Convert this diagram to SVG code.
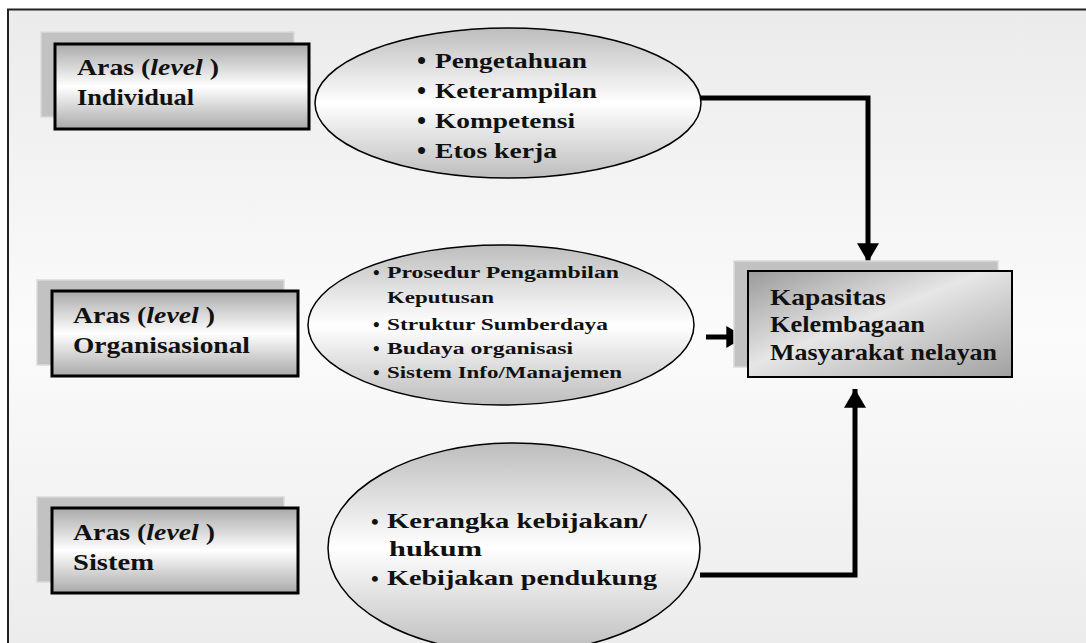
<svg xmlns="http://www.w3.org/2000/svg" width="1086" height="643" viewBox="0 0 1086 643">
<style>
text{font-family:'Liberation Serif','Times New Roman',serif;font-weight:700;fill:#111}
.it{font-style:italic}
.shadow{fill:#c2c2c2;stroke:#dadada;stroke-width:1.5}
.box{fill:url(#gBox);stroke:#000;stroke-width:3}
.rbox{fill:url(#gRBox);stroke:#000;stroke-width:2}
.ell{fill:url(#gEll);stroke:#000;stroke-width:1.5}
.conn{fill:none;stroke:#000;stroke-width:5}
</style>
<defs>
<linearGradient id="gBg" x1="0" y1="0" x2="0" y2="1">
<stop offset="0" stop-color="#ebebeb"/><stop offset="0.5" stop-color="#fbfbfb"/><stop offset="1" stop-color="#ebebeb"/>
</linearGradient>
<linearGradient id="gBox" x1="0" y1="0" x2="0" y2="1">
<stop offset="0" stop-color="#a9a9a9"/><stop offset="0.5" stop-color="#ffffff"/><stop offset="1" stop-color="#a9a9a9"/>
</linearGradient>
<linearGradient id="gRBox" x1="0" y1="0" x2="1" y2="1">
<stop offset="0" stop-color="#9a9a9a"/><stop offset="0.45" stop-color="#e6e6e6"/><stop offset="1" stop-color="#a0a0a0"/>
</linearGradient>
<linearGradient id="gEll" x1="0" y1="0" x2="0" y2="1">
<stop offset="0" stop-color="#bdbdbd"/><stop offset="0.5" stop-color="#ffffff"/><stop offset="1" stop-color="#bdbdbd"/>
</linearGradient>
<marker id="ah" markerUnits="userSpaceOnUse" markerWidth="22" markerHeight="22" viewBox="0 0 20 20" refX="17" refY="10" orient="auto">
<path d="M0,0 L17,10 L0,20 Z" fill="#000"/>
</marker>
</defs>

<rect x="8" y="9.5" width="1090" height="650" fill="url(#gBg)" stroke="#222" stroke-width="2"/>

<g id="connectors">
<path class="conn" d="M700,98 H868 V262" marker-end="url(#ah)"/>
<path class="conn" d="M706,337 H745" marker-end="url(#ah)"/>
<path class="conn" d="M700,575 H855 V389" marker-end="url(#ah)"/>
</g>

<g id="level-individual">
<rect class="shadow" x="41" y="32" width="253" height="85"/>
<rect class="box" x="55" y="44" width="254" height="85"/>
<text x="77" y="75" font-size="23" textLength="142" lengthAdjust="spacingAndGlyphs">Aras (<tspan class="it">level</tspan> )</text>
<text x="77" y="105" font-size="23" textLength="117" lengthAdjust="spacingAndGlyphs">Individual</text>
</g>

<g id="ellipse-individual">
<ellipse class="ell" cx="508" cy="103" rx="193" ry="75"/>
<text x="417" y="69" font-size="26">•</text>
<text x="435" y="68" font-size="20" textLength="152" lengthAdjust="spacingAndGlyphs">Pengetahuan</text>
<text x="417" y="99" font-size="26">•</text>
<text x="435" y="98" font-size="20" textLength="162" lengthAdjust="spacingAndGlyphs">Keterampilan</text>
<text x="417" y="129" font-size="26">•</text>
<text x="435" y="128" font-size="20" textLength="140" lengthAdjust="spacingAndGlyphs">Kompetensi</text>
<text x="417" y="159" font-size="26">•</text>
<text x="435" y="158" font-size="20" textLength="122" lengthAdjust="spacingAndGlyphs">Etos kerja</text>
</g>

<g id="level-organisasional">
<rect class="shadow" x="37" y="280" width="247" height="85"/>
<rect class="box" x="52" y="291" width="246" height="85"/>
<text x="73" y="323" font-size="23" textLength="142" lengthAdjust="spacingAndGlyphs">Aras (<tspan class="it">level</tspan> )</text>
<text x="73" y="353" font-size="23" textLength="177" lengthAdjust="spacingAndGlyphs">Organisasional</text>
</g>

<g id="ellipse-organisasional">
<ellipse class="ell" cx="501" cy="325" rx="193" ry="80"/>
<text x="373" y="279" font-size="19">•</text>
<text x="387" y="278" font-size="17" textLength="232" lengthAdjust="spacingAndGlyphs">Prosedur Pengambilan</text>
<text x="387" y="303" font-size="17" textLength="107" lengthAdjust="spacingAndGlyphs">Keputusan</text>
<text x="373" y="331" font-size="19">•</text>
<text x="387" y="330" font-size="17" textLength="221" lengthAdjust="spacingAndGlyphs">Struktur Sumberdaya</text>
<text x="373" y="355" font-size="19">•</text>
<text x="387" y="354" font-size="17" textLength="186" lengthAdjust="spacingAndGlyphs">Budaya organisasi</text>
<text x="373" y="379" font-size="19">•</text>
<text x="387" y="378" font-size="17" textLength="235" lengthAdjust="spacingAndGlyphs">Sistem Info/Manajemen</text>
</g>

<g id="level-sistem">
<rect class="shadow" x="37" y="497" width="247" height="85"/>
<rect class="box" x="52" y="508" width="246" height="85"/>
<text x="73" y="540" font-size="23" textLength="142" lengthAdjust="spacingAndGlyphs">Aras (<tspan class="it">level</tspan> )</text>
<text x="73" y="570" font-size="23" textLength="81" lengthAdjust="spacingAndGlyphs">Sistem</text>
</g>

<g id="ellipse-sistem">
<ellipse class="ell" cx="514" cy="548" rx="186" ry="105"/>
<text x="371" y="529" font-size="22">•</text>
<text x="387" y="528" font-size="21" textLength="260" lengthAdjust="spacingAndGlyphs">Kerangka kebijakan/</text>
<text x="389" y="556" font-size="21" textLength="93" lengthAdjust="spacingAndGlyphs">hukum</text>
<text x="371" y="586" font-size="22">•</text>
<text x="387" y="585" font-size="21" textLength="270" lengthAdjust="spacingAndGlyphs">Kebijakan pendukung</text>
</g>

<g id="kapasitas">
<rect class="shadow" x="734" y="261" width="264" height="106"/>
<rect class="rbox" x="748" y="271" width="264" height="106"/>
<text x="770" y="305" font-size="23" textLength="116" lengthAdjust="spacingAndGlyphs">Kapasitas</text>
<text x="770" y="332" font-size="23" textLength="155" lengthAdjust="spacingAndGlyphs">Kelembagaan</text>
<text x="770" y="360" font-size="23" textLength="227" lengthAdjust="spacingAndGlyphs">Masyarakat nelayan</text>
</g>
</svg>
